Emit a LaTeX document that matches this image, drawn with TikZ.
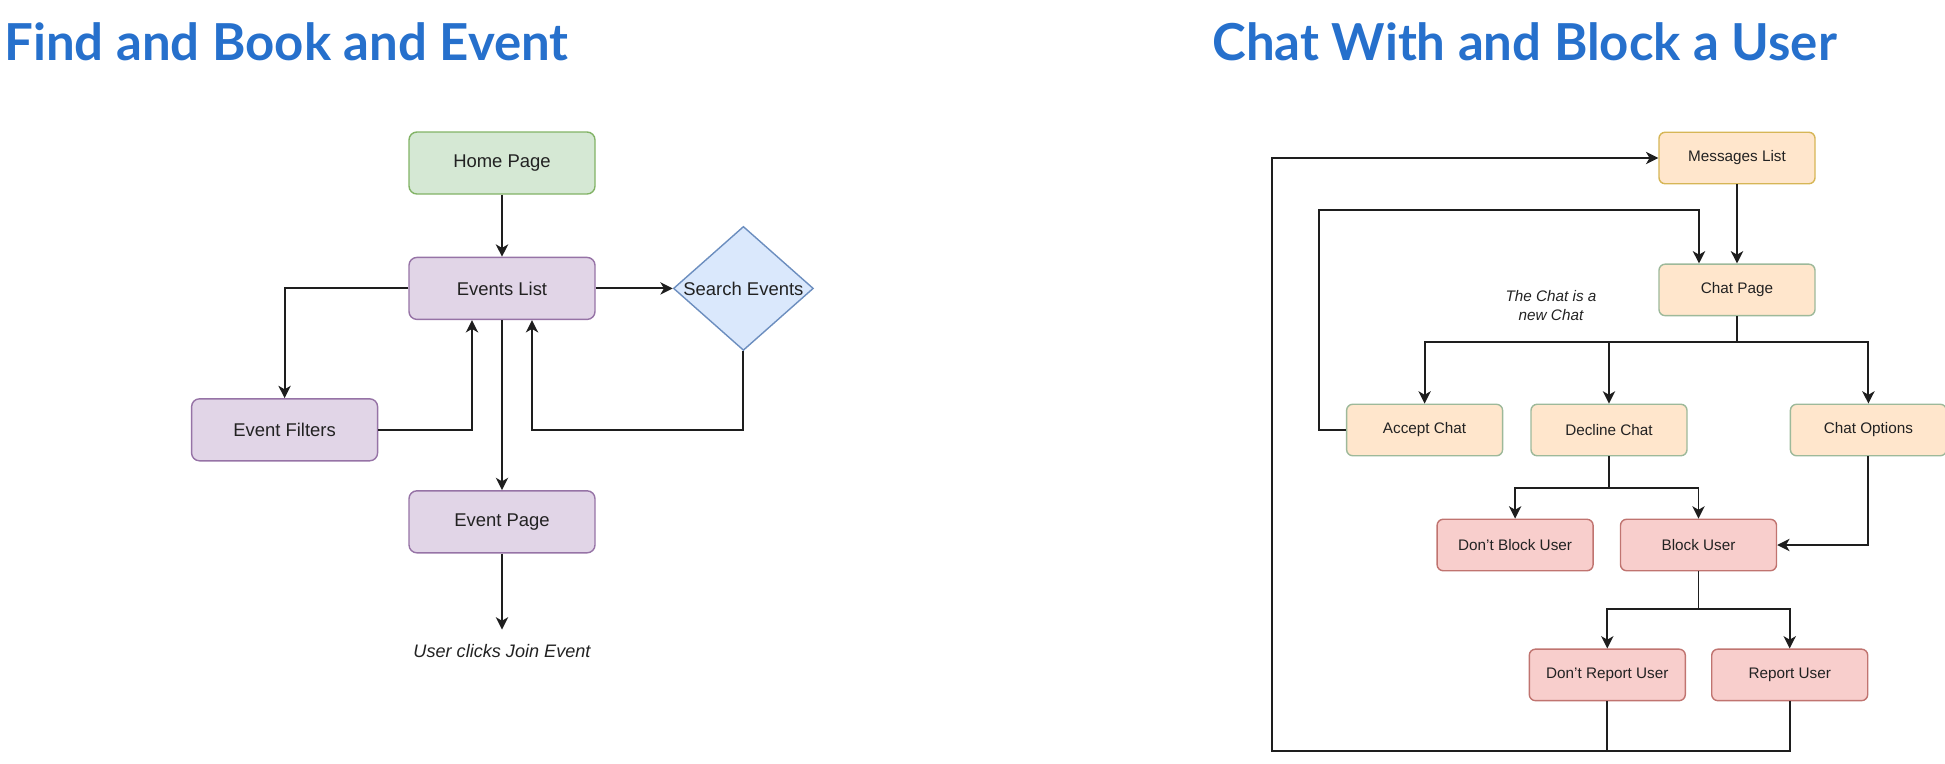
\documentclass[tikz,border=0pt]{standalone}
\usepackage{fontspec}
\setmainfont{Liberation Sans}
\newfontfamily\titlefont{Lato}
\usepackage{xcolor}
\usepackage{tikz}
\usetikzlibrary{positioning,calc,shapes.geometric,arrows.meta}
\definecolor{TitleBlue}{RGB}{38,112,204}
\definecolor{LineDark}{RGB}{30,30,30}
\definecolor{TextDark}{RGB}{34,34,34}
\definecolor{GreenFill}{HTML}{D5E8D4}
\definecolor{GreenLine}{HTML}{82B366}
\definecolor{PurpleFill}{HTML}{E1D5E7}
\definecolor{PurpleLine}{HTML}{9673A6}
\definecolor{BlueFill}{HTML}{DAE8FC}
\definecolor{BlueLine}{HTML}{6C8EBF}
\definecolor{OrangeFill}{HTML}{FFE6CC}
\definecolor{OrangeLine}{HTML}{D6B656}
\definecolor{SageLine}{HTML}{9DB99A}
\definecolor{RedFill}{HTML}{F8CECC}
\definecolor{RedLine}{HTML}{C07470}
\tikzset{
    pagebox/.style={rectangle, rounded corners=4.5pt, draw, line width=0.8pt, text=TextDark, minimum width=3.72cm, minimum height=1.24cm, inner sep=0pt, font=\fontsize{10.5}{12}\selectfont},
    chatbox/.style={pagebox, rounded corners=3.5pt, minimum width=3.12cm, minimum height=1.03cm, font=\fontsize{8.7}{10}\selectfont},
    flowline/.style={draw=LineDark, line width=1.1pt, -{Stealth[length=7pt,width=7pt,inset=2pt]}},
    plainline/.style={draw=LineDark, line width=1.1pt},
    titletext/.style={anchor=base west, inner sep=0pt, text=TitleBlue, font=\titlefont\bfseries\fontsize{29}{34}\selectfont},
    notetext/.style={inner sep=0pt, align=center, text=TextDark, font=\itshape\fontsize{8.7}{10.8}\selectfont}
}

\begin{document}
\begin{tikzpicture}[
                homebox/.style={pagebox, fill=GreenFill, draw=GreenLine},
                listbox/.style={pagebox, fill=PurpleFill, draw=PurpleLine},
                searchbox/.style={
                    diamond,
                    draw=BlueLine,
                    fill=BlueFill,
                    line width=0.8pt,
                    text=TextDark,
                    minimum width=2.8cm,
                    minimum height=2.48cm,
                    inner sep=0pt,
                    font=\fontsize{10.5}{12}\selectfont
                },
                msgbox/.style={chatbox, fill=OrangeFill, draw=OrangeLine},
                optbox/.style={chatbox, fill=OrangeFill, draw=SageLine},
                userbox/.style={chatbox, fill=RedFill, draw=RedLine}
            ]
                \useasboundingbox (0,0) rectangle (38.9,-15.26);
                % Tiêu đề
                \node[titletext] (lefttitle) at (0.08,-1.21) {Find and Book and Event};
                \node[titletext] (righttitle) at (24.24,-1.21) {Chat With and Block a User};

                % Sơ đồ 1
                \node[homebox] (home) at (10.04,-3.26) {Home Page};
                \node[listbox, below=1.24cm of home] (evlist) {Events List};
                \node[listbox, below left=1.56cm and 0.6cm of evlist] (filters) {Event Filters};
                \node[searchbox, right=1.54cm of evlist] (search) {\makebox[0pt]{Search Events}};
                \node[listbox, below=3.4cm of evlist] (evpage) {Event Page};
                \coordinate (joinend) at ($(evpage.south)+(0,-1.52)$);
                \node[notetext, font=\itshape\fontsize{10.3}{12}\selectfont, below=0.3cm of joinend] (join) {User clicks Join Event};

                % Mũi tên 1
                \draw[flowline] (home) -- (evlist);
                \draw[flowline] (evlist.west) -| (filters.north);
                \draw[flowline] (evlist.east) -- (search.west);
                \coordinate (filtin) at ($(evlist.south)+(-0.6,0)$);
                \coordinate (searchin) at ($(evlist.south)+(0.6,0)$);
                \draw[flowline] (filters.east) -| (filtin);
                \draw[flowline] (search.south) |- (searchin |- filters.east) -- (searchin);
                \draw[flowline] (evlist) -- (evpage);
                \draw[flowline] (evpage) -- (joinend);

                % Sơ đồ 2
                \node[msgbox] (msgs) at (34.74,-3.16) {Messages List};
                \node[optbox, below=1.58cm of msgs] (chat) {Chat Page};
                \node[optbox] (decline) at (32.18,-8.6) {Decline Chat};
                \node[optbox, left=0.54cm of decline] (accept) {Accept Chat};
                \node[optbox, right=2.04cm of decline] (options) {Chat Options};
                \node[notetext] (newchat) at (31.02,-6.12) {The Chat is a\\new Chat};
                \node[userbox] (block) at (33.97,-10.9) {Block User};
                \node[userbox, left=0.52cm of block] (dontblock) {Don't Block User};
                \node[userbox, below left=1.54cm and 0.25cm of block.south] (dontreport) {Don't Report User};
                \node[userbox, right=0.5cm of dontreport] (report) {Report User};

                % Mũi tên 2
                \draw[flowline] (msgs) -- (chat);
                \coordinate (chatfork) at ($(chat.south)+(0,-0.52)$);
                \foreach \n in {accept,decline,options}
                    \draw[flowline] (chat.south) -- (chatfork) -| (\n.north);
                \coordinate (chatin) at ($(chat.north)+(-0.76,0)$);
                \draw[flowline] (accept.west) -- ++(-0.54,0) |- ($(chatin)+(0,1.06)$) -- (chatin);
                \coordinate (declfork) at ($(decline.south)+(0,-0.64)$);
                \foreach \n in {dontblock,block}
                    \draw[flowline] (decline.south) -- (declfork) -| (\n.north);
                \draw[flowline] (options.south) |- (block.east);
                \coordinate (blockfork) at ($(block.south)+(0,-0.76)$);
                \foreach \n in {dontreport,report}
                    \draw[flowline] (block.south) -- (blockfork) -| (\n.north);
                \coordinate (loopcorner) at (25.44,-15.02);
                \draw[plainline] (dontreport.south) -- (dontreport.south |- loopcorner);
                \draw[flowline] (report.south) |- (loopcorner) |- (msgs.west);
            \end{tikzpicture}
\end{document}
